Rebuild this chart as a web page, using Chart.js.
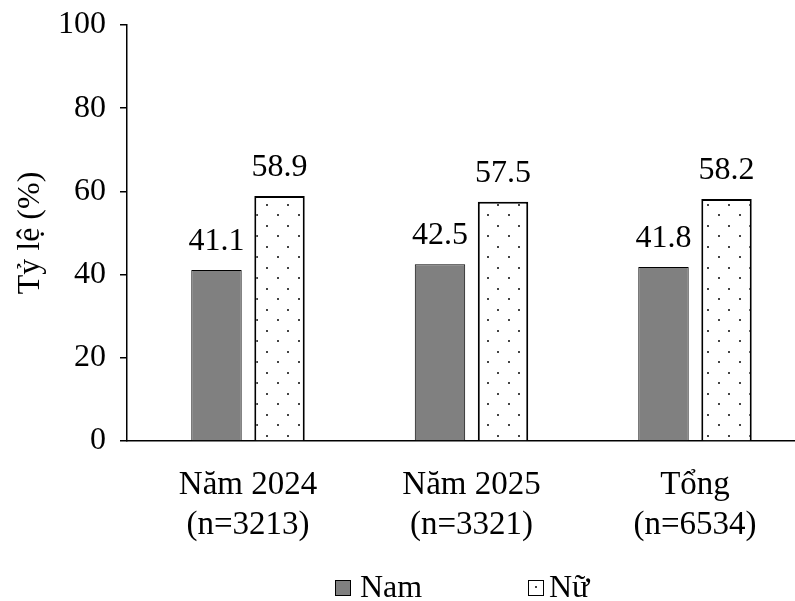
<!DOCTYPE html>
<html>
<head>
<meta charset="utf-8">
<script src="https://cdn.jsdelivr.net/npm/chart.js@4.4.1/dist/chart.umd.min.js"></script>
<style>
  html, body { margin: 0; padding: 0; background: #fff; overflow: hidden; }
  #wrap { position: relative; width: 795px; height: 601px; }
  .sw { position: absolute; width: 14px; height: 14px; border: 1px solid #000; }
  .lt { position: absolute; font-family: "Liberation Serif", "Times New Roman", serif; font-size: 32px; line-height: 32px; color: #000; }
</style>
</head>
<body>
<div id="wrap">
  <canvas id="chart" width="795" height="601"></canvas>
  <div class="sw" style="left:335px; top:580px; background:#808080;"></div>
  <div class="lt" style="left:360px; top:570px;">Nam</div>
  <div class="sw" style="left:528px; top:580px; background:#fff;"><div style="position:absolute; left:6px; top:5px; width:2px; height:2px; background:#444;"></div></div>
  <div class="lt" style="left:549px; top:570px;">Nữ</div>
</div>
<script>
var categories = [["Năm 2024", "(n=3213)"], ["Năm 2025", "(n=3321)"], ["Tổng", "(n=6534)"]];
var namValues = [41.1, 42.5, 41.8];
var nuValues = [58.9, 57.5, 58.2];
var yTicks = [0, 20, 40, 60, 80, 100];

var fontTimes = "'Liberation Serif', 'Times New Roman', serif";

function taoPatternCham() {
    var c = document.createElement("canvas");
    c.width = 21;
    c.height = 21;
    var g = c.getContext("2d");
    g.fillStyle = "#fff";
    g.fillRect(0, 0, 21, 21);
    g.fillStyle = "#444";
    g.fillRect(4, 4, 2, 2);
    g.fillRect(14, 15, 2, 2);
    return g.createPattern(c, "repeat");
}

function duLieu(values) {
    return values.map(function (v, i) { return { x: i, y: v }; });
}

var nhanGiaTri = {
    id: "nhanGiaTri",
    afterDatasetsDraw: function (chart) {
        var ctx = chart.ctx;
        ctx.save();
        ctx.fillStyle = "#000";
        ctx.font = "32px " + fontTimes;
        ctx.textAlign = "center";
        ctx.textBaseline = "alphabetic";
        chart.data.datasets.forEach(function (ds, i) {
            var meta = chart.getDatasetMeta(i);
            meta.data.forEach(function (bar, j) {
                ctx.fillText(ds.data[j].y.toFixed(1), bar.x, bar.y - 20);
            });
        });
        ctx.restore();
    }
};

var chart = new Chart(document.getElementById("chart"), {
    type: "bar",
    data: {
        datasets: [
            { label: "Nam", data: duLieu(namValues), backgroundColor: "#808080", borderColor: "#000", borderWidth: 1, categoryPercentage: 0.564, barPercentage: 0.8 },
            { label: "Nữ", data: duLieu(nuValues), backgroundColor: taoPatternCham(), borderColor: "#000", borderWidth: 2, categoryPercentage: 0.564, barPercentage: 0.8 }
        ]
    },
    options: {
        responsive: false,
        animation: false,
        layout: { padding: { top: 25, left: 0, right: 0, bottom: 0 } },
        plugins: { legend: { display: false }, tooltip: { enabled: false } },
        scales: {
            x: {
                type: "linear",
                offset: false,
                min: -121 / 223.5,
                max: 547 / 223.5,
                afterBuildTicks: function (scale) {
                    scale.ticks = categories.map(function (c, i) { return { value: i }; });
                },
                afterFit: function (scale) {
                    scale.height = 160;
                    scale.paddingLeft = 0;
                    scale.paddingRight = 0;
                },
                grid: { display: false, drawTicks: false, offset: false },
                border: { display: true, color: "#000", width: 1.5 },
                ticks: {
                    padding: 25,
                    color: "#000",
                    maxRotation: 0,
                    autoSkip: false,
                    font: { family: fontTimes, size: 33, lineHeight: 1.19 },
                    callback: function (value) { return categories[value]; }
                }
            },
            y: {
                min: 0,
                max: 100,
                afterBuildTicks: function (scale) {
                    scale.ticks = yTicks.map(function (v) { return { value: v }; });
                },
                afterFit: function (scale) {
                    scale.width = 127;
                    scale.paddingTop = 0;
                    scale.paddingBottom = 0;
                },
                grid: { drawOnChartArea: false, drawTicks: true, tickLength: 7, color: "#000", lineWidth: 1.5 },
                border: { display: true, color: "#000", width: 1.5 },
                ticks: { padding: 14, color: "#000", font: { family: fontTimes, size: 32 } },
                title: {
                    display: true,
                    text: "Tỷ lệ (%)",
                    color: "#000",
                    padding: { top: 11, bottom: 0 },
                    font: { family: fontTimes, size: 32 }
                }
            }
        }
    },
    plugins: [nhanGiaTri]
});
</script>
</body>
</html>
